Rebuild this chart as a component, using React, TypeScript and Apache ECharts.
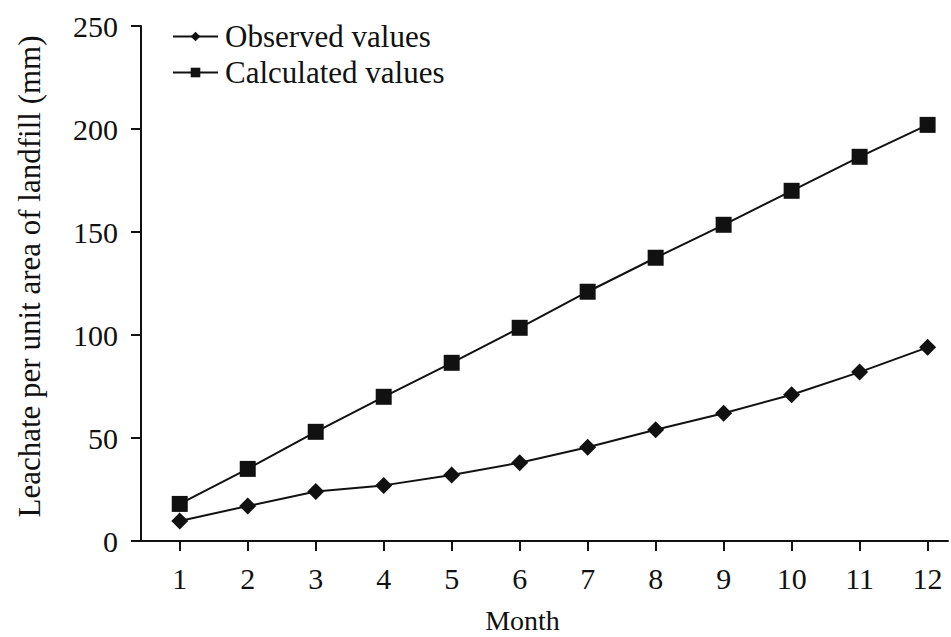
import React, { useEffect, useRef } from "react";
import * as echarts from "echarts";

const months = [1, 2, 3, 4, 5, 6, 7, 8, 9, 10, 11, 12];
const observed = [9.7, 17, 24, 27, 32, 38, 45.5, 54, 62, 71, 82, 94];
const calculated = [18, 35, 53, 70, 86.5, 103.5, 121, 137.5, 153.5, 170, 186.5, 202];
const yTicks = [0, 50, 100, 150, 200, 250];

const FONT = "Liberation Serif";
const INK = "#111";

export default function App() {
  const ref = useRef<HTMLDivElement>(null);
  useEffect(() => {
    if (!ref.current) return;
    const chart = echarts.init(ref.current, undefined, { renderer: "svg" });
    chart.setOption({
      animation: false,
      backgroundColor: "#fff",
      textStyle: { fontFamily: FONT, color: INK },
      grid: { left: 141, right: 3, top: 26, bottom: 96, containLabel: false, outerBoundsMode: "none" },
      legend: {
        orient: "vertical",
        left: 167,
        top: 16,
        itemWidth: 45,
        itemHeight: 12,
        itemGap: 5,
        textStyle: { fontFamily: FONT, fontSize: 31, color: INK, padding: [0, 0, 0, 2] },
        data: ["Observed values", "Calculated values"],
      },
      xAxis: {
        type: "value",
        min: 0.43,
        max: 12.3,
        name: "Month",
        nameLocation: "middle",
        nameGap: 65,
        nameTextStyle: { fontFamily: FONT, fontSize: 28, lineHeight: 28, color: INK, padding: [0, 44, 0, 0] },
        axisLine: { show: true, lineStyle: { color: INK, width: 2 } },
        axisTick: { show: true, inside: false, length: 10, lineStyle: { color: INK, width: 2 }, customValues: months },
        axisLabel: { fontFamily: FONT, fontSize: 30, color: INK, margin: 22, customValues: months },
        splitLine: { show: false },
      },
      yAxis: {
        type: "value",
        min: yTicks[0],
        max: yTicks[yTicks.length - 1],
        interval: 50,
        name: "Leachate per unit area of landfill (mm)",
        nameLocation: "middle",
        nameGap: 96,
        nameTextStyle: { fontFamily: FONT, fontSize: 31, color: INK, padding: [0, 0, 0, 14] },
        axisLine: { show: true, lineStyle: { color: INK, width: 2 } },
        axisTick: { show: true, inside: false, length: 10, lineStyle: { color: INK, width: 2 } },
        axisLabel: { fontFamily: FONT, fontSize: 30, color: INK, margin: 23 },
        splitLine: { show: false },
      },
      series: [
        {
          name: "Observed values",
          type: "line",
          data: months.map((m, i) => [m, observed[i]]),
          symbol: "diamond",
          symbolSize: 17,
          lineStyle: { color: INK, width: 2 },
          itemStyle: { color: INK },
        },
        {
          name: "Calculated values",
          type: "line",
          data: months.map((m, i) => [m, calculated[i]]),
          symbol: "rect",
          symbolSize: 16,
          lineStyle: { color: INK, width: 2 },
          itemStyle: { color: INK },
        },
      ],
    });
    return () => chart.dispose();
  }, []);
  return (
    <div
      ref={ref}
      style={{ position: "fixed", left: 0, top: 0, width: 951, height: 637, background: "#fff" }}
    />
  );
}
